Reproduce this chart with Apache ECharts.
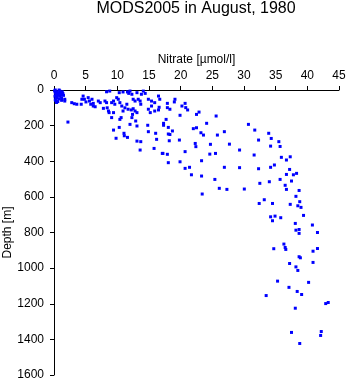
<!DOCTYPE html>
<html>
<head>
<meta charset="utf-8">
<script src="https://cdn.jsdelivr.net/npm/echarts@6/dist/echarts.min.js"></script>
<style>
  html, body { margin: 0; padding: 0; background: #fff; }
  #chart { width: 348px; height: 384px; }
</style>
</head>
<body>
<div id="chart"></div>
<script>
// Nitrate profile samples: [nitrate (µmol/l), depth (m)]
const surfaceSamples = [
  [0.1,5],[0.2,15],[0.3,25],[0.15,35],[0.4,45],[0.2,55],[0.5,10],[0.6,20],[0.7,30],
  [0.5,40],[0.8,50],[0.9,5],[1.0,15],[1.1,25],[1.0,35],[1.2,45],[0.3,60],[0.6,65],
  [1.3,10],[1.4,20],[1.5,30],[0.8,0],[0.2,0],[1.7,52],[1.7,62],[0.4,70],[1.2,58],
  [2.2,180]
];
const upperSamples = [
  [2.8,71],[3.2,77],[3.6,80],[4.3,80],[4.4,52],[4.8,52],[4.6,34],[5.05,67],[5.4,43],
  [5.6,62],[6.0,52],[5.8,80],[6.2,75],[6.5,94],[7.0,62],[7.3,71],[8.3,10],[8.05,62],
  [8.3,71],[8.4,100],[8.6,118],[8.7,127],[7.8,103],[6.2,90],
  [8.8,6],[9.1,71],[9.4,62],[9.6,80],[9.4,127],[9.1,155],[9.9,43],[10.15,52],[10.4,71],
  [10.3,15],[10.9,11],[11.6,11],[11.8,19],[12.0,6],[12.3,24],[10.7,90],[10.9,118],
  [10.6,155],[10.4,165],[11.2,100],[11.5,80],[11.7,108],[12.2,112],[12.5,105],[12.8,118],
  [12.4,137],[12.3,155],[12.5,52],[12.8,62],[13.3,52],[13.6,62],[13.7,80],[13.1,15],
  [14.1,6],[14.4,19],[13.8,24],[13.1,127],[12.9,174],[13.1,202],[10.3,210],[12.0,193],
  [14.9,108],[15.2,127],[15.4,90],[15.9,118],[16.5,112],[14.9,52],[15.4,62],[15.9,71],
  [16.5,34],[16.7,52],[14.8,198],[17.3,187],[16.6,97],
  [9.4,225],[9.8,271],[11.05,243],[11.1,257],[11.6,266],[13.1,287],[13.7,290],[14.9,234],
  [16.05,243],[16.2,277],[13.6,337],[15.8,328],[17.1,356]
];
const middleSamples = [
  [17.9,75],[19.1,52],[19.0,67],[17.9,99],[18.3,108],[20.2,90],[20.7,75],[20.8,99],
  [21.1,112],[19.9,142],[22.5,137],[22.9,124],[25.6,146],[17.7,165],[17.3,198],
  [18.7,230],[18.3,250],[18.05,210],[22.0,217],[22.5,212],[24.1,187],
  [18.05,247],[18.2,285],[19.8,281],[23.2,240],[23.6,253],[25.8,253],[22.3,300],
  [22.4,318],[24.7,305],[17.2,356],[17.9,361],[18.05,408],[20.7,346],[19.9,403],
  [23.3,397],[24.6,360],[25.5,356],[20.7,440],[21.4,434],[21.7,476],[23.3,483],[25.4,502],
  [30.7,193],[31.7,225],[33.9,243],[34.3,272],[26.9,234],[32.3,281],[27.7,304],[34.2,315],
  [29.3,337],[31.6,365],[26.9,434],[29.3,436],[32.3,442],[34.2,434],[34.8,421]
];
const deepSamples = [
  [35.5,290],[35.7,317],[35.9,378],[36.7,393],[37.3,375],[37.2,446],[36.7,474],[37.8,476],
  [38.3,468],[35.7,502],[37.5,511],[36.5,535],[36.7,558],[38.7,564],[38.2,597],[26.1,552],
  [27.3,558],[23.4,584],[30.05,556],[32.5,524],[34.0,515],[33.2,616],[32.4,637],[34.5,637],
  [37.3,642],[38.8,627],[38.5,650],[39.0,659],[39.4,704],
  [34.2,712],[34.9,708],[35.8,717],[34.5,734],[38.1,749],[40.8,758],[38.2,787],[38.7,783],
  [38.7,805],[41.6,800],[36.3,865],[36.5,884],[36.6,895],[34.7,891],[41.6,890],[40.9,905],
  [38.7,936],[38.9,942],[37.2,974],[40.9,968],[38.2,993],[38.5,1013],[35.3,1073],[40.2,1080],
  [37.1,1108],[38.4,1131],[39.1,1148],[33.5,1154],[42.9,1199],[43.3,1193],[38.1,1225],
  [42.2,1356],[42.1,1378],[37.5,1361],[38.8,1423]
];

const xTicks = [0, 5, 10, 15, 20, 25, 30, 35, 40, 45];
const yTicks = [0, 200, 400, 600, 800, 1000, 1200, 1400, 1600];

const allSamples = surfaceSamples.concat(upperSamples, middleSamples, deepSamples);

const font = 'Liberation Sans, Arial, Helvetica, sans-serif';
const plain = v => String(v);
const chart = echarts.init(document.getElementById('chart'), null, { renderer: 'canvas' });

chart.setOption({
  animation: false,
  backgroundColor: '#ffffff',
  title: {
    text: 'MODS2005 in August, 1980',
    left: 196,
    textAlign: 'center',
    top: 1,
    padding: 0,
    textStyle: { fontFamily: font, fontSize: 16, fontWeight: 'normal', color: '#000' }
  },
  grid: { left: 54, right: 9, top: 90, bottom: 9, containLabel: false, outerBoundsMode: 'none' },
  xAxis: {
    type: 'value',
    position: 'top',
    min: xTicks[0],
    max: xTicks[xTicks.length - 1],
    interval: 5,
    name: 'Nitrate [µmol/l]',
    nameLocation: 'middle',
    nameGap: 24,
    nameMoveOverlap: false,
    nameTextStyle: { fontFamily: font, fontSize: 12, color: '#000' },
    axisLine: { show: true, onZero: false, lineStyle: { color: '#000', width: 1 } },
    axisTick: { show: true, inside: false, length: 4, lineStyle: { color: '#000' } },
    axisLabel: { fontFamily: font, fontSize: 12, color: '#000', margin: 8, formatter: plain },
    splitLine: { show: false }
  },
  yAxis: {
    type: 'value',
    inverse: true,
    min: yTicks[0],
    max: yTicks[yTicks.length - 1],
    interval: 200,
    name: 'Depth [m]',
    nameLocation: 'middle',
    nameGap: 40,
    nameMoveOverlap: false,
    nameTextStyle: { fontFamily: font, fontSize: 12, color: '#000' },
    axisLine: { show: true, onZero: false, lineStyle: { color: '#000', width: 1 } },
    axisTick: { show: true, inside: false, length: 4, lineStyle: { color: '#000' } },
    axisLabel: { fontFamily: font, fontSize: 12, color: '#000', margin: 10, formatter: plain },
    splitLine: { show: false }
  },
  series: [{
    type: 'scatter',
    data: allSamples,
    symbol: 'rect',
    symbolSize: 3,
    itemStyle: { color: '#0000ff', opacity: 1 },
    silent: true
  }]
});
</script>
</body>
</html>
